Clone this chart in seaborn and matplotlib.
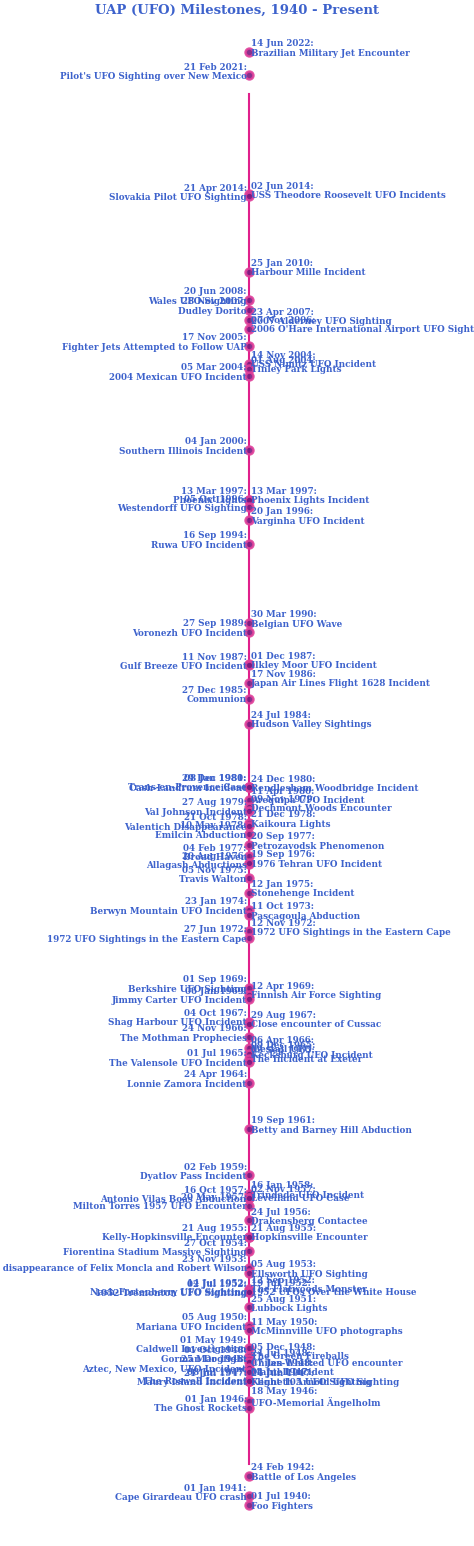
import matplotlib
matplotlib.use("Agg")
import matplotlib.pyplot as plt
import seaborn as sns
import pandas as pd

dates = ["14 Jun 2022","21 Feb 2021","02 Jun 2014","21 Apr 2014","25 Jan 2010","20 Jun 2008","28 Nov 2007",
 "23 Apr 2007","07 Nov 2006","17 Nov 2005","14 Nov 2004","01 Aug 2004","05 Mar 2004","04 Jan 2000",
 "13 Mar 1997","13 Mar 1997","05 Oct 1996","20 Jan 1996","16 Sep 1994","30 Mar 1990","27 Sep 1989",
 "01 Dec 1987","11 Nov 1987","17 Nov 1986","27 Dec 1985","24 Jul 1984","08 Jan 1981","29 Dec 1980",
 "24 Dec 1980","11 Apr 1980","09 Nov 1979","27 Aug 1979","21 Dec 1978","21 Oct 1978","10 May 1978",
 "20 Sep 1977","04 Feb 1977","20 Aug 1976","19 Sep 1976","05 Nov 1975","12 Jan 1975","23 Jan 1974",
 "11 Oct 1973","12 Nov 1972","27 Jun 1972","01 Sep 1969","12 Apr 1969","06 Jan 1969","04 Oct 1967",
 "29 Aug 1967","24 Nov 1966","06 Apr 1966","09 Dec 1965","03 Sep 1965","01 Jul 1965","24 Apr 1964",
 "19 Sep 1961","02 Feb 1959","16 Jan 1958","02 Nov 1957","16 Oct 1957","20 May 1957","24 Jul 1956",
 "21 Aug 1955","21 Aug 1955","27 Oct 1954","23 Nov 1953","05 Aug 1953","12 Sep 1952","19 Jul 1952",
 "14 Jul 1952","02 Jul 1952","25 Aug 1951","05 Aug 1950","11 May 1950","01 May 1949","05 Dec 1948",
 "01 Oct 1948","24 Jul 1948","25 Mar 1948","07 Jan 1948","08 Jul 1947","04 Jul 1947","24 Jun 1947",
 "21 Jun 1947","18 May 1946","01 Jan 1946","24 Feb 1942","01 Jan 1941","01 Jul 1940"]
events = ["Brazilian Military Jet Encounter","Pilot's UFO Sighting over New Mexico","USS Theodore Roosevelt UFO Incidents",
 "Slovakia Pilot UFO Sighting","Harbour Mille Incident","Wales UFO Sighting","Dudley Dorito",
 "2007 Alderney UFO Sighting","2006 O'Hare International Airport UFO Sighting","Fighter Jets Attempted to Follow UAP",
 "USS Nimitz UFO Incident","Tinley Park Lights","2004 Mexican UFO Incident","Southern Illinois Incident",
 "Phoenix Lights","Phoenix Lights Incident","Westendorff UFO Sighting","Varginha UFO Incident","Ruwa UFO Incident",
 "Belgian UFO Wave","Voronezh UFO Incident","Ilkley Moor UFO Incident","Gulf Breeze UFO Incident",
 "Japan Air Lines Flight 1628 Incident","Communion","Hudson Valley Sightings","Trans-en-Provence Case",
 "Cash-Landrum Incident","Rendlesham Woodbridge Incident","Arequipa UFO Incident","Dechmont Woods Encounter",
 "Val Johnson Incident","Kaikoura Lights","Valentich Disappearance","Emilcin Abduction","Petrozavodsk Phenomenon",
 "Broad Haven","Allagash Abductions","1976 Tehran UFO Incident","Travis Walton","Stonehenge Incident",
 "Berwyn Mountain UFO Incident","Pascagoula Abduction","1972 UFO Sightings in the Eastern Cape",
 "1972 UFO Sightings in the Eastern Cape","Berkshire UFO Sighting","Finnish Air Force Sighting",
 "Jimmy Carter UFO Incident","Shag Harbour UFO Incident","Close encounter of Cussac","The Mothman Prophecies",
 "Westall UFO","Kecksburg UFO Incident","The Incident at Exeter","The Valensole UFO Incident",
 "Lonnie Zamora Incident","Betty and Barney Hill Abduction","Dyatlov Pass Incident","Trindade UFO Incident",
 "Levelland UFO Case","Antonio Vilas Boas Abduction","Milton Torres 1957 UFO Encounter","Drakensberg Contactee",
 "Kelly-Hopkinsville Encounter","Hopkinsville Encounter","Fiorentina Stadium Massive Sighting",
 "The disappearance of Felix Moncla and Robert Wilson","Ellsworth UFO Sighting","The Flatwoods Monster",
 "1952 UFOs Over the White House","Nash-Fortenberry UFO Sighting","1952 Tremonton UFO Sighting",
 "Lubbock Lights","Mariana UFO Incident","McMinnville UFO photographs","Caldwell Investigation",
 "The Green Fireballs","Gorman Dogfight","Chiles-Whitted UFO encounter","Aztec, New Mexico, UFO Incident",
 "Mantell Incident","The Roswell Incident","Flight 105 UFO Sighting","Kenneth Arnold UFO Sighting",
 "Maury Island Incident","UFO-Memorial Ängelholm","The Ghost Rockets","Battle of Los Angeles",
 "Cape Girardeau UFO crash","Foo Fighters"]
sides = ["R","L","R","L","R","L","L","R","R","L","R","R","L","L","L","R","L","R","L","R","L","R","L","R","L","R",
 "L","L","R","R","R","L","R","L","L","R","L","L","R","L","R","L","R","R","L","L","R","L","L","R","L","R","R","R",
 "L","L","R","L","R","R","L","L","R","L","R","L","L","R","R","R","L","L","R","L","R","L","R","L","R","L","R","L",
 "R","R","L","R","L","R","L","R"]

dt = pd.to_datetime(pd.Series(dates), format="%d %b %Y")
df = pd.DataFrame({"date": dates, "event": events, "side": sides,
                   "year": dt.dt.year + (dt.dt.dayofyear - 1) / 365.25, "x": 0.0})

TXT = "#3d62cc"
fig = plt.figure(figsize=(4.74, 15.46), dpi=100)
ax = fig.add_axes([0, 0, 1, 1])
ax.set_xlim(-0.525, 0.475)
ax.set_ylim(1938.19, 2025.38)
ax.axis("off")
ax.plot([0, 0], [1942.8, 2020.1], color="#e0208c", lw=1.5, zorder=1)
sns.scatterplot(data=df, x="x", y="year", ax=ax, s=32, color="#7a1a80",
                edgecolor="#e0409a", linewidth=1.8, alpha=0.9, zorder=3, legend=False)
for _, r in df.iterrows():
    right = r["side"] == "R"
    ax.annotate(f"{r['date']}:\n{r['event']}", (0, r["year"]),
                xytext=(1.5 if right else -1.5, 2.5), textcoords="offset points",
                ha="left" if right else "right", va="center",
                fontsize=6.3, fontweight="bold", family="DejaVu Serif",
                color=TXT, linespacing=1.05, zorder=4)
fig.text(0.5, 1 - 10 / 1546, "UAP (UFO) Milestones, 1940 - Present", ha="center", va="center",
         fontsize=9.5, fontweight="bold", family="DejaVu Serif", color=TXT)
fig.savefig("out.png", dpi=100)
